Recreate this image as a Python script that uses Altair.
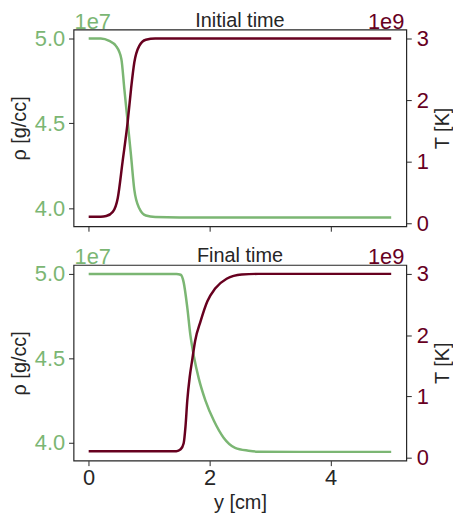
import altair as alt
import pandas as pd

# ---------------- data (rho in units of 1e7 g/cc, T in units of 1e9 K) -------------
x_rho_init = [0.0, 0.2, 0.34, 0.45, 0.54, 0.59, 0.645, 0.70, 0.754, 0.836, 0.945, 1.1, 1.5, 2.5, 3.5, 4.5, 5.0]
rho_init = [5.0, 5.0, 4.986, 4.957, 4.88, 4.70, 4.506, 4.31, 4.11, 4.0, 3.957, 3.948, 3.946, 3.946, 3.946, 3.946, 3.946]

x_T_init = [0.0, 0.2, 0.29, 0.40, 0.48, 0.56, 0.645, 0.70, 0.754, 0.836, 0.945, 1.1, 2.0, 3.0, 4.0, 5.0]
T_init = [0.11, 0.11, 0.12, 0.19, 0.41, 1.0, 1.65, 2.18, 2.61, 2.88, 2.98, 3.0, 3.0, 3.0, 3.0, 3.0]

x_rho_final = [0.0, 1.0, 1.45, 1.52, 1.57, 1.63, 1.68, 1.74, 1.82, 1.93, 2.07, 2.23, 2.42, 2.64, 2.80, 3.5, 4.5, 5.0]
rho_final = [5.0, 5.0, 5.0, 4.995, 4.95, 4.80, 4.64, 4.51, 4.38, 4.25, 4.13, 4.03, 3.97, 3.953, 3.947, 3.946, 3.946, 3.946]

x_T_final = [0.0, 1.0, 1.45, 1.52, 1.57, 1.60, 1.63, 1.67, 1.71, 1.76, 1.85, 1.96, 2.09, 2.28, 2.53, 2.80, 3.5, 4.5, 5.0]
T_final = [0.11, 0.11, 0.11, 0.14, 0.24, 0.51, 0.94, 1.32, 1.59, 1.91, 2.23, 2.55, 2.76, 2.92, 2.99, 3.0, 3.0, 3.0, 3.0]

rho_ticks = [4.0, 4.5, 5.0]
T_ticks = [0, 1, 2, 3]
x_ticks = [0, 2, 4]
titles = ["Initial time", "Final time"]

GREEN = "#7bb673"
RED = "#67001f"
DARK = "#262626"
FONT = "Liberation Sans"

X_DOM = [-0.25, 5.25]
RHO_DOM = [3.894, 5.053]
T_DOM = [-0.045, 3.145]

W = 335


def panel(xr, rr, xt, tt, title, bottom, h):
    d_rho = pd.DataFrame({"x": xr, "rho": rr})
    d_T = pd.DataFrame({"x": xt, "T": tt})
    xaxis = alt.Axis(
        values=x_ticks, format="d", labels=bottom, title="y [cm]" if bottom else None,
        grid=False, domain=False, tickColor=DARK, tickSize=5, tickWidth=1,
        labelFontSize=22, labelColor=DARK, labelFont=FONT, labelPadding=2,
        titleFontSize=20, titleFont=FONT, titleColor=DARK, titleFontWeight="normal",
        titlePadding=4,
    )
    xenc = alt.X("x:Q", scale=alt.Scale(domain=X_DOM, nice=False, zero=False), axis=xaxis)
    rho_line = alt.Chart(d_rho).mark_line(color=GREEN, strokeWidth=2.5, interpolate="monotone").encode(
        x=xenc,
        y=alt.Y("rho:Q", scale=alt.Scale(domain=RHO_DOM, nice=False, zero=False),
                axis=alt.Axis(orient="left", values=rho_ticks, format=".1f", grid=False, domain=False,
                              tickColor=DARK, tickSize=5, labelFontSize=22, labelColor=GREEN,
                              labelFont=FONT, labelPadding=4, title="ρ [g/cc]", titleFontSize=20,
                              titleFont=FONT, titleColor=DARK, titleFontWeight="normal",
                              titlePadding=5)),
    )
    T_line = alt.Chart(d_T).mark_line(color=RED, strokeWidth=2.5, interpolate="monotone").encode(
        x=alt.X("x:Q", scale=alt.Scale(domain=X_DOM, nice=False, zero=False)),
        y=alt.Y("T:Q", scale=alt.Scale(domain=T_DOM, nice=False, zero=False),
                axis=alt.Axis(orient="right", values=T_ticks, format="d", grid=False, domain=False,
                              tickColor=DARK, tickSize=5, labelFontSize=22, labelColor=RED,
                              labelFont=FONT, labelPadding=5, title="T [K]", titleFontSize=20,
                              titleFont=FONT, titleColor=DARK, titleFontWeight="normal",
                              titleAngle=270, titleBaseline="top", titlePadding=4)),
    )
    t1 = alt.Chart(pd.DataFrame({"t": ["1e7"]})).mark_text(
        align="left", baseline="alphabetic", fontSize=22, font=FONT, color=GREEN
    ).encode(text="t:N", x=alt.value(1), y=alt.value(-1))
    t2 = alt.Chart(pd.DataFrame({"t": ["1e9"]})).mark_text(
        align="right", baseline="alphabetic", fontSize=22, font=FONT, color=RED
    ).encode(text="t:N", x=alt.value(W - 2), y=alt.value(-1))
    t3 = alt.Chart(pd.DataFrame({"t": [title]})).mark_text(
        align="center", baseline="alphabetic", fontSize=20, font=FONT, color=DARK
    ).encode(text="t:N", x=alt.value(W / 2), y=alt.value(-3))
    return alt.layer(rho_line, T_line, t1, t2, t3).resolve_scale(y="independent").properties(
        width=W, height=h,
    )


top = panel(x_rho_init, rho_init, x_T_init, T_init, titles[0], False, 198)
bot = panel(x_rho_final, rho_final, x_T_final, T_final, titles[1], True, 197)

chart = alt.vconcat(top, bot, spacing=10).properties(
    padding={"left": 0, "top": 0, "right": 0, "bottom": 0}
).configure_view(stroke=DARK, strokeWidth=1.2)

chart.save("out.html", embed_options={"renderer": "svg", "actions": False})
